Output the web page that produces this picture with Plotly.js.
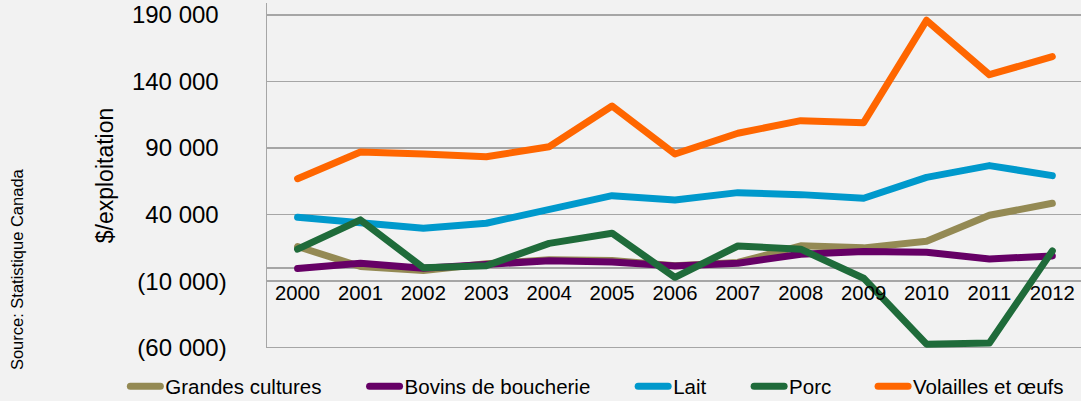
<!DOCTYPE html>
<html>
<head>
<meta charset="utf-8">
<script src="https://cdn.plot.ly/plotly-3.0.1.min.js"></script>
<style>
html,body{margin:0;padding:0;background:#f2f2f2;overflow:hidden;}
#chart{width:1081px;height:401px;}
.js-line{stroke-linecap:round;stroke-linejoin:round;}
</style>
</head>
<body>
<div id="chart"></div>
<script>
// ---- data ----
const years = ["2000","2001","2002","2003","2004","2005","2006","2007","2008","2009","2010","2011","2012"];
const grandesCultures = [16000, 1000, -2000, 3000, 6000, 5500, 1500, 4000, 16500, 15000, 20000, 39500, 48500];
const bovinsBoucherie = [-500, 3400, -300, 2900, 5400, 4400, 1400, 3400, 10200, 12200, 11700, 6700, 8900];
const lait = [38000, 34000, 29700, 33500, 43500, 54200, 51000, 56500, 55000, 52300, 68000, 76800, 69300];
const porc = [14000, 36000, 0, 1600, 18400, 26000, -7100, 16400, 14000, -7800, -57400, -56500, 12700];
const volailles = [67000, 87000, 85500, 83500, 91000, 121600, 85500, 101100, 110600, 109100, 186000, 145100, 158700];
const seriesNames = ["Grandes cultures", "Bovins de boucherie", "Lait", "Porc", "Volailles et œufs"];
const yTickVals = [-60000, -10000, 40000, 90000, 140000, 190000];
const yTickText = ["(60 000)", "(10 000)", "40 000", "90 000", "140 000", "190 000"];
const yTitle = "$/exploitation";
const sourceText = "Source: Statistique Canada";

// ---- styling ----
const colors = ["#948A54", "#660066", "#0099CC", "#1F6B3A", "#FF6600"];
const FONT = "Liberation Sans, Arial, sans-serif";
const W = 1081, H = 401;
const M = {l: 266.7, r: 0, t: 3, b: 53.3, autoexpand: false};
const plotW = W - M.l - M.r, plotH = H - M.t - M.b;
const px2x = p => (p - M.l) / plotW;
const px2y = p => (H - M.b - p) / plotH;
const grid = "#a6a6a6";

const allValues = [grandesCultures, bovinsBoucherie, lait, porc, volailles];
const legendTextStart = [165, 404.3, 673, 789, 913];
const legendIds = ["legend", "legend2", "legend3", "legend4", "legend5"];

const traces = allValues.map((vals, i) => ({
  type: "scatter", mode: "lines",
  x: years, y: vals, name: seriesNames[i],
  line: {color: colors[i], width: 7},
  legend: legendIds[i],
  hoverinfo: "skip"
}));

// padded labels so positives align like Excel's "_)" format
const paddedText = yTickText.map(t => t.startsWith("(") ? t : t + '<span style="color:rgba(0,0,0,0)">)</span>');

const layout = {
  width: W, height: H,
  margin: M,
  paper_bgcolor: "#f2f2f2",
  plot_bgcolor: "#f2f2f2",
  font: {family: FONT, color: "#000"},
  showlegend: true,
  xaxis: {
    type: "category",
    range: [-0.486, 12.456],
    anchor: "free",
    position: px2y(278.7),
    showline: false,
    showgrid: false, zeroline: false,
    ticks: "", ticklen: 0, ticklabelstandoff: 0,
    tickfont: {size: 20.3, family: FONT, color: "#000"},
    fixedrange: true
  },
  yaxis: {
    range: [-60250, 199000],
    tickvals: yTickVals, ticktext: paddedText,
    showgrid: true, gridcolor: grid, gridwidth: 1.5,
    zeroline: true, zerolinecolor: grid, zerolinewidth: 1.5,
    showline: true, linecolor: grid, linewidth: 1.5,
    ticks: "", ticklen: 0, ticklabelstandoff: 34,
    tickfont: {size: 24, family: FONT, color: "#000"},
    title: {text: yTitle, font: {size: 23, family: FONT, color: "#000"}, standoff: 12},
    fixedrange: true
  },
  shapes: [{
    type: "line", xref: "paper", yref: "y", layer: "below",
    x0: 0, x1: 1, y0: yTickVals[0], y1: yTickVals[0],
    line: {color: grid, width: 1.5}
  }],
  annotations: [{
    text: sourceText, xref: "paper", yref: "paper",
    x: px2x(16), y: px2y(268.5), xanchor: "center", yanchor: "middle",
    textangle: -90, showarrow: false,
    font: {size: 16.5, family: FONT, color: "#000"}
  }]
};
legendIds.forEach((id, i) => {
  layout[id] = {
    orientation: "h", xanchor: "left", yanchor: "middle",
    x: px2x(legendTextStart[i] - 40), y: px2y(386),
    bgcolor: "rgba(0,0,0,0)", borderwidth: 0,
    font: {size: 20.5, family: FONT, color: "#000"},
    itemclick: false, itemdoubleclick: false
  };
});

Plotly.newPlot("chart", traces, layout, {displayModeBar: false, staticPlot: true});
</script>
</body>
</html>
